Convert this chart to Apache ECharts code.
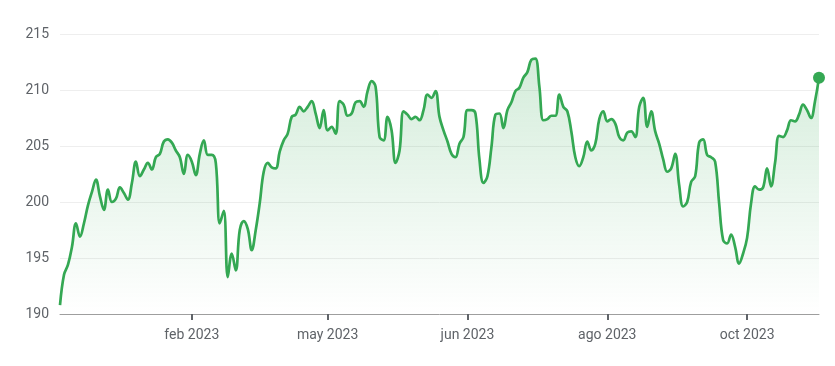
<!DOCTYPE html>
<html>
<head>
<meta charset="utf-8">
<script src="https://cdn.jsdelivr.net/npm/echarts@6/dist/echarts.min.js"></script>
<style>
html,body{margin:0;padding:0;background:#fff;}
#chart{width:835px;height:366px;}
</style>
</head>
<body>
<div id="chart"></div>
<script>
// Series values (one per trading step)
const values = [
190.8,193.5,194.4,196.0,198.1,196.9,198.1,199.7,200.9,202.0,
200.5,199.3,201.1,200.0,200.3,201.3,200.8,200.2,201.7,203.6,
202.3,202.9,203.5,202.9,204.0,204.3,205.4,205.6,205.3,204.6,
204.0,202.5,204.2,203.6,202.4,204.3,205.5,204.2,204.2,203.5,
198.1,199.2,193.3,195.4,193.9,197.5,198.3,197.6,195.7,197.5,
199.9,202.7,203.5,203.1,203.0,204.5,205.5,206.1,207.6,207.8,
208.5,208.1,208.5,209.0,207.9,206.6,208.2,206.4,206.7,206.1,
209.0,208.7,207.7,207.9,208.9,209.0,208.5,209.9,210.8,210.3,
205.8,205.5,207.6,206.4,203.5,204.6,208.1,207.8,207.4,207.6,
207.3,208.2,209.6,209.3,209.9,207.6,206.4,205.4,204.3,204.0,
205.2,205.8,208.2,208.2,207.9,203.8,201.7,202.3,204.9,207.8,
207.9,206.6,208.2,208.9,209.9,210.2,211.1,211.6,212.7,212.8,
210.3,207.3,207.4,207.7,207.7,209.6,208.5,208.1,206.3,204.0,
203.2,204.0,205.4,204.6,205.2,207.4,208.1,207.2,207.4,207.0,
205.8,205.5,206.2,206.3,205.8,208.5,209.3,206.7,208.1,206.3,
205.2,203.8,202.7,203.0,204.3,201.5,199.6,200.0,201.8,202.3,
205.3,205.6,204.2,204.0,203.6,199.9,196.6,196.3,197.1,196.0,
194.5,195.4,196.8,199.9,201.4,201.1,201.3,203.0,201.4,203.5,
205.9,205.8,206.4,207.3,207.2,207.8,208.7,208.2,207.5,209.0,
211.1
];
// Categories: step indices
const categories = values.map((_, i) => String(i));
// X tick labels and where they sit
const tickIndex = [33, 67, 102, 137, 172];
const tickLabels = ['feb 2023', 'may 2023', 'jun 2023', 'ago 2023', 'oct 2023'];
// Y axis ticks
const yMin = 190, yMax = 215, yStep = 5;

const lastIdx = values.length - 1;
const green = '#34a853';
const labelMap = {};
tickIndex.forEach((idx, k) => { labelMap[idx] = tickLabels[k]; });

const chart = echarts.init(document.getElementById('chart'), null, {renderer: 'canvas'});
chart.setOption({
  animation: false,
  grid: {left: 60, right: 16, top: 34, bottom: 52, containLabel: false},
  xAxis: {
    type: 'category',
    data: categories,
    boundaryGap: false,
    axisLine: {show: true, lineStyle: {color: '#9e9e9e', width: 1}},
    axisTick: {
      show: true,
      length: 6,
      lineStyle: {color: '#5f6368', width: 2},
      interval: (index) => labelMap[index] !== undefined
    },
    axisLabel: {
      interval: (index) => labelMap[index] !== undefined,
      formatter: (value, index) => labelMap[index] || '',
      color: '#5f6368',
      fontFamily: 'Roboto',
      fontSize: 14,
      margin: 14
    },
    splitLine: {show: false}
  },
  yAxis: {
    type: 'value',
    min: yMin,
    max: yMax,
    interval: yStep,
    axisLine: {show: false},
    axisTick: {show: false},
    axisLabel: {color: '#5f6368', fontFamily: 'Roboto', fontSize: 14, margin: 11},
    splitLine: {show: true, lineStyle: {color: '#eeeeee', width: 1}}
  },
  series: [
    {
      type: 'line',
      data: values,
      smooth: 0.4,
      symbol: 'none',
      lineStyle: {color: green, width: 2.7},
      areaStyle: {
        color: new echarts.graphic.LinearGradient(0, 0, 0, 1, [
          {offset: 0, color: 'rgba(52,168,83,0.30)'},
          {offset: 1, color: 'rgba(52,168,83,0.0)'}
        ])
      },
      z: 2
    },
    {
      type: 'scatter',
      data: [[lastIdx, values[lastIdx]]],
      symbol: 'circle',
      symbolSize: 12,
      itemStyle: {color: green, opacity: 1},
      z: 3
    }
  ]
});
</script>
</body>
</html>
